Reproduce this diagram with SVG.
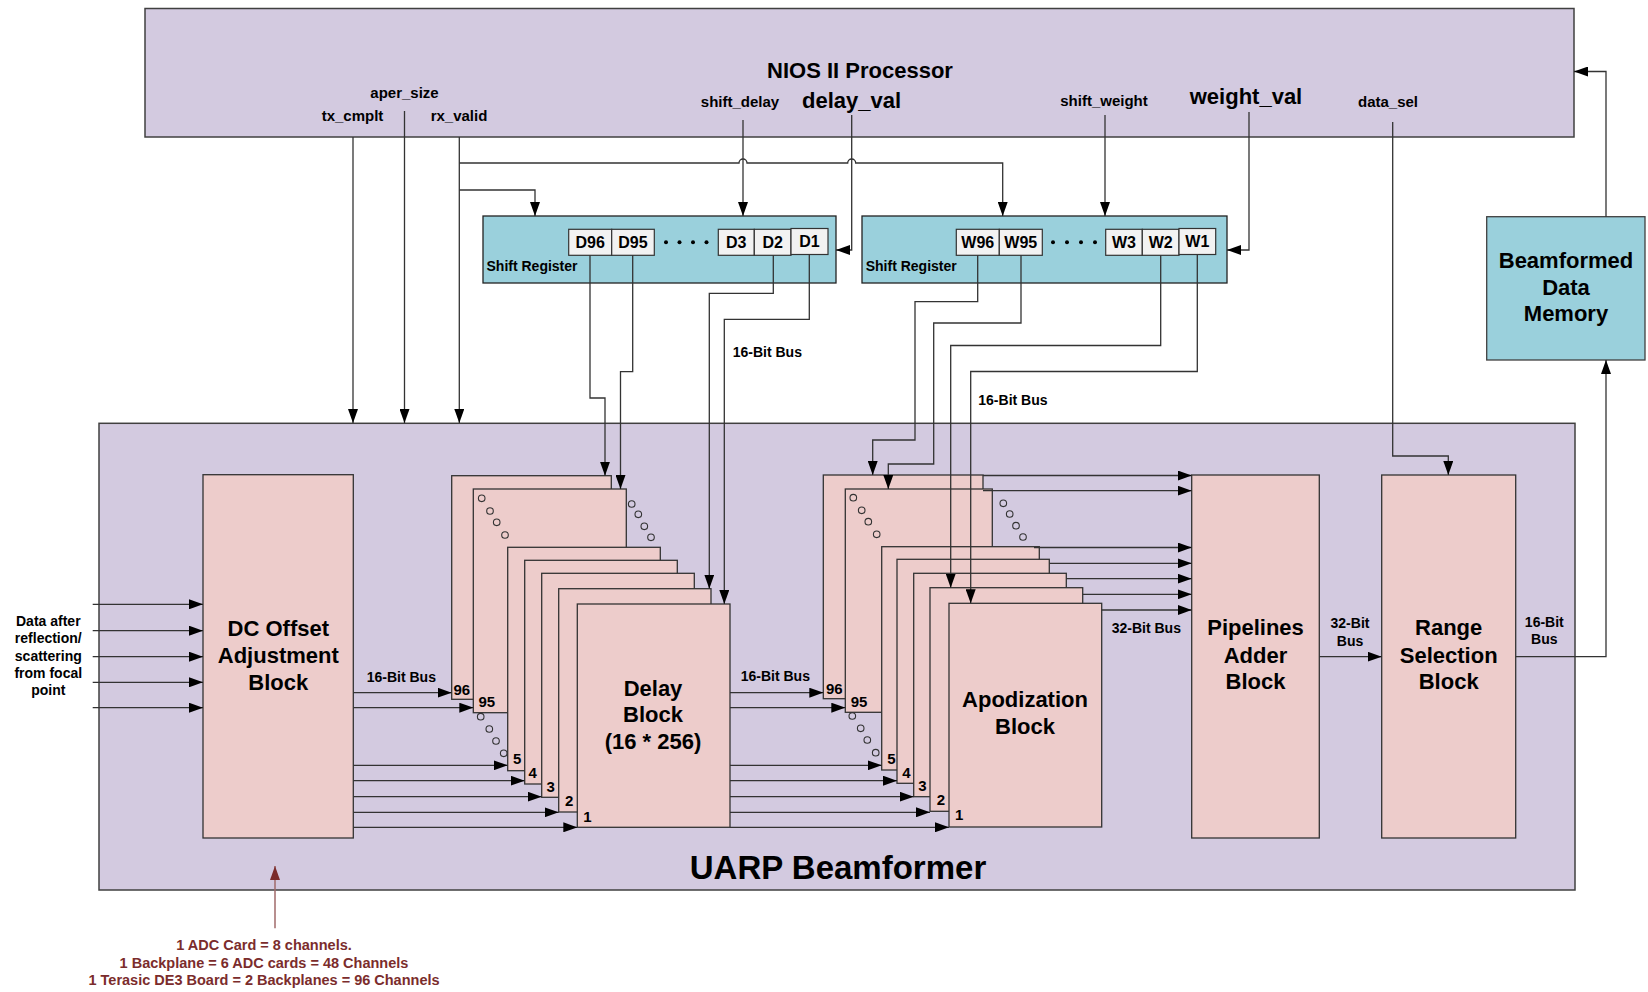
<svg xmlns="http://www.w3.org/2000/svg" width="1648" height="992" viewBox="0 0 1648 992">
  <defs>
    <marker id="arr" viewBox="0 0 14 10" refX="14" refY="5" markerWidth="14" markerHeight="10" orient="auto" markerUnits="userSpaceOnUse">
      <path d="M0,0 L14,5 L0,10 z" fill="#000"/>
    </marker>
    <marker id="arrBrown" viewBox="0 0 14 10" refX="14" refY="5" markerWidth="14" markerHeight="10" orient="auto" markerUnits="userSpaceOnUse">
      <path d="M0,0 L14,5 L0,10 z" fill="#7B2C2C"/>
    </marker>
  </defs>
  <style>
    text { font-family: "Liberation Sans", Arial, sans-serif; font-weight: bold; fill: #000; }
    .frame { fill: #D3CAE0; stroke: #404040; stroke-width: 1.5; }
    .blk { fill: #EDCCCB; stroke: #333; stroke-width: 1.3; }
    .reg { fill: #9AD0DC; stroke: #222; stroke-width: 1.3; }
    .cell { fill: #F2F2F2; stroke: #333; stroke-width: 1.2; }
    .dot { fill: #000; }
    .ring { fill: none; stroke: #333; stroke-width: 1.1; }
    .big { font-size: 22px; text-anchor: middle; }
    .sig { font-size: 15px; text-anchor: middle; }
    .cellt { font-size: 16px; text-anchor: middle; }
    .sm { font-size: 14px; }
    .lbl { font-size: 15px; }
    .wire { fill: none; stroke: #333; stroke-width: 1.3; }
    .wa { fill: none; stroke: #333; stroke-width: 1.3; marker-end: url(#arr); }
    .note { font-size: 14.5px; text-anchor: middle; fill: #7B2C2C; }
  </style>

  <!-- processor -->
  <g id="nios">
    <rect class="frame" x="145" y="8.5" width="1429" height="128.5"/>
    <text class="big" x="860" y="78">NIOS II Processor</text>
    <text class="big" x="851.5" y="108">delay_val</text>
    <text class="big" x="1246" y="104">weight_val</text>
    <text class="sig" x="404.5" y="98">aper_size</text>
    <text class="sig" x="352.5" y="121">tx_cmplt</text>
    <text class="sig" x="459" y="121">rx_valid</text>
    <text class="sig" x="740" y="107">shift_delay</text>
    <text class="sig" x="1104" y="106">shift_weight</text>
    <text class="sig" x="1388" y="107">data_sel</text>
  </g>

  <!-- beamformer frame -->
  <g id="uarp">
    <rect class="frame" x="99" y="423.3" width="1476" height="466.7"/>
    <text x="838" y="879" style="font-size:33px;text-anchor:middle">UARP Beamformer</text>
  </g>

  <!-- delay shift register -->
  <g id="delay-shift-register">
    <rect class="reg" x="483" y="216" width="353" height="67"/>
    <rect class="cell" x="568.7" y="229.3" width="43" height="26"/>
    <rect class="cell" x="611.7" y="229.3" width="42.6" height="26"/>
    <rect class="cell" x="718.3" y="229.3" width="36" height="26"/>
    <rect class="cell" x="754.3" y="229.3" width="36.7" height="26"/>
    <rect class="cell" x="791" y="228.5" width="37" height="26"/>
    <text class="cellt" x="590.2" y="248">D96</text>
    <text class="cellt" x="633" y="248">D95</text>
    <text class="cellt" x="736.3" y="248">D3</text>
    <text class="cellt" x="772.7" y="248">D2</text>
    <text class="cellt" x="809.5" y="246.5">D1</text>
    <circle class="dot" cx="666" cy="242.3" r="2"/>
    <circle class="dot" cx="679.5" cy="242.3" r="2"/>
    <circle class="dot" cx="693" cy="242.3" r="2"/>
    <circle class="dot" cx="706.5" cy="242.3" r="2"/>
    <text class="sm" x="486.5" y="271">Shift Register</text>
  </g>

  <!-- weight shift register -->
  <g id="weight-shift-register">
    <rect class="reg" x="862" y="216" width="365" height="67"/>
    <rect class="cell" x="956.3" y="229.3" width="43" height="26"/>
    <rect class="cell" x="999.3" y="229.3" width="43" height="26"/>
    <rect class="cell" x="1105.7" y="229.3" width="36.6" height="26"/>
    <rect class="cell" x="1142.3" y="229.3" width="36.7" height="26"/>
    <rect class="cell" x="1179" y="228.5" width="36.7" height="26"/>
    <text class="cellt" x="977.8" y="248">W96</text>
    <text class="cellt" x="1020.8" y="248">W95</text>
    <text class="cellt" x="1124" y="248">W3</text>
    <text class="cellt" x="1160.7" y="248">W2</text>
    <text class="cellt" x="1197.3" y="246.5">W1</text>
    <circle class="dot" cx="1053" cy="242.3" r="2"/>
    <circle class="dot" cx="1067" cy="242.3" r="2"/>
    <circle class="dot" cx="1081" cy="242.3" r="2"/>
    <circle class="dot" cx="1095" cy="242.3" r="2"/>
    <text class="sm" x="865.7" y="271">Shift Register</text>
  </g>

  <!-- output memory -->
  <g id="beamformed-memory">
    <rect class="reg" x="1486.7" y="216.7" width="158.3" height="143.3" style="stroke:#404040"/>
    <text class="big" x="1566" y="268">Beamformed</text>
    <text class="big" x="1566" y="294.5">Data</text>
    <text class="big" x="1566" y="321">Memory</text>
  </g>

  <!-- DC offset block -->
  <g id="dc-offset">
    <rect class="blk" x="203" y="474.7" width="150.3" height="363.3"/>
    <text class="big" x="278.3" y="636">DC Offset</text>
    <text class="big" x="278.3" y="663">Adjustment</text>
    <text class="big" x="278.3" y="689.5">Block</text>
  </g>

  <!-- delay block stack -->
  <g id="delay-block">
    <rect class="blk" x="451.7" y="475.7" width="159.6" height="223.6"/>
    <rect class="blk" x="473.3" y="489" width="153" height="223.7"/>
    <rect class="blk" x="507.7" y="547.3" width="152.6" height="223.4"/>
    <rect class="blk" x="524.7" y="560.3" width="152.6" height="223.7"/>
    <rect class="blk" x="541.7" y="573.3" width="152.6" height="224"/>
    <rect class="blk" x="558.7" y="588.7" width="152.3" height="223.3"/>
    <rect class="blk" x="577.3" y="604" width="152.7" height="223.3"/>
    <text class="lbl" x="453.5" y="695">96</text>
    <text class="lbl" x="478.5" y="707">95</text>
    <text class="lbl" x="513" y="764">5</text>
    <text class="lbl" x="528.5" y="778">4</text>
    <text class="lbl" x="546.5" y="792">3</text>
    <text class="lbl" x="565" y="806">2</text>
    <text class="lbl" x="583.3" y="822">1</text>
    <circle class="ring" cx="481.7" cy="498.3" r="3.3"/>
    <circle class="ring" cx="490" cy="511" r="3.3"/>
    <circle class="ring" cx="496.7" cy="522.3" r="3.3"/>
    <circle class="ring" cx="505" cy="535" r="3.3"/>
    <circle class="ring" cx="631.7" cy="504" r="3.3"/>
    <circle class="ring" cx="638.3" cy="514.3" r="3.3"/>
    <circle class="ring" cx="644.3" cy="526.3" r="3.3"/>
    <circle class="ring" cx="651" cy="537.3" r="3.3"/>
    <circle class="ring" cx="480.7" cy="716.7" r="3.3"/>
    <circle class="ring" cx="489.3" cy="729" r="3.3"/>
    <circle class="ring" cx="496" cy="741" r="3.3"/>
    <circle class="ring" cx="503.7" cy="753.3" r="3.3"/>
    <text class="big" x="653" y="696">Delay</text>
    <text class="big" x="653" y="722">Block</text>
    <text class="big" x="653" y="748.5">(16 * 256)</text>
  </g>

  <!-- apodization block stack -->
  <g id="apodization-block">
    <rect class="blk" x="823.3" y="475" width="159.7" height="223.7"/>
    <rect class="blk" x="845.3" y="489" width="147" height="223.3"/>
    <rect class="blk" x="881.7" y="546.7" width="157.6" height="223.3"/>
    <rect class="blk" x="897" y="559.3" width="152.3" height="224"/>
    <rect class="blk" x="913.7" y="573.3" width="152.6" height="223.4"/>
    <rect class="blk" x="930" y="587.7" width="152.7" height="223.6"/>
    <rect class="blk" x="949" y="603.3" width="152.7" height="223.7"/>
    <text class="lbl" x="826" y="694">96</text>
    <text class="lbl" x="850.7" y="707">95</text>
    <text class="lbl" x="887.3" y="763.5">5</text>
    <text class="lbl" x="902.3" y="777.5">4</text>
    <text class="lbl" x="918.3" y="791">3</text>
    <text class="lbl" x="936.7" y="804.5">2</text>
    <text class="lbl" x="955" y="820">1</text>
    <circle class="ring" cx="853.3" cy="497.7" r="3.3"/>
    <circle class="ring" cx="861.7" cy="510.3" r="3.3"/>
    <circle class="ring" cx="868.3" cy="521.7" r="3.3"/>
    <circle class="ring" cx="876.7" cy="534.3" r="3.3"/>
    <circle class="ring" cx="1003.3" cy="503.3" r="3.3"/>
    <circle class="ring" cx="1009.7" cy="514" r="3.3"/>
    <circle class="ring" cx="1016" cy="525.7" r="3.3"/>
    <circle class="ring" cx="1023" cy="537" r="3.3"/>
    <circle class="ring" cx="852.3" cy="716" r="3.3"/>
    <circle class="ring" cx="860.7" cy="728.3" r="3.3"/>
    <circle class="ring" cx="867.3" cy="740" r="3.3"/>
    <circle class="ring" cx="875.7" cy="752.7" r="3.3"/>
    <text class="big" x="1025" y="707">Apodization</text>
    <text class="big" x="1025" y="734">Block</text>
  </g>

  <!-- adder -->
  <g id="pipelines-adder">
    <rect class="blk" x="1191.7" y="475" width="127.6" height="363"/>
    <text class="big" x="1255.5" y="635">Pipelines</text>
    <text class="big" x="1255.5" y="662.5">Adder</text>
    <text class="big" x="1255.5" y="688.5">Block</text>
  </g>

  <!-- range selection -->
  <g id="range-selection">
    <rect class="blk" x="1381.7" y="475" width="134" height="363"/>
    <text class="big" x="1448.7" y="635">Range</text>
    <text class="big" x="1448.7" y="662.5">Selection</text>
    <text class="big" x="1448.7" y="688.5">Block</text>
  </g>

  <!-- input source note -->
  <g id="input-data">
    <text class="sm" x="48.3" y="625.7" text-anchor="middle">Data after</text>
    <text class="sm" x="48.3" y="642.5" text-anchor="middle">reflection/</text>
    <text class="sm" x="48.3" y="660.5" text-anchor="middle">scattering</text>
    <text class="sm" x="48.3" y="678" text-anchor="middle">from focal</text>
    <text class="sm" x="48.3" y="695" text-anchor="middle">point</text>
  </g>

  <g id="channel-note">
    <text class="note" x="264" y="950">1 ADC Card = 8 channels.</text>
    <text class="note" x="264" y="967.7">1 Backplane = 6 ADC cards = 48 Channels</text>
    <text class="note" x="264" y="985.3">1 Terasic DE3 Board = 2 Backplanes = 96 Channels</text>
  </g>

  <!-- wiring -->
  <g id="connectors">
    <!-- control lines from the processor -->
    <path class="wa" d="M353,137 V423"/>
    <path class="wa" d="M404.5,111 V423"/>
    <path class="wa" d="M459.3,137 V423"/>
    <path class="wa" d="M459.3,163 H739 A4,4 0 0 1 747,163 H847.7 A4,4 0 0 1 855.7,163 H1002.7 V216"/>
    <path class="wa" d="M459.3,190 H535 V216"/>
    <path class="wa" d="M743,120 V216"/>
    <path class="wa" d="M851.7,115 V250 H836"/>
    <path class="wa" d="M1105,115 V216"/>
    <path class="wa" d="M1249,112 V250 H1227"/>
    <path class="wa" d="M1392.7,122 V456 H1448.3 V475"/>
    <path class="wa" d="M1606,216.7 V71.5 H1574"/>

    <!-- delay register taps -->
    <path class="wa" d="M590,255.3 V398 H605 V475.7"/>
    <path class="wa" d="M632.7,255.3 V371.7 H620.5 V489"/>
    <path class="wa" d="M773.3,255.3 V293.3 H709.3 V588.7"/>
    <path class="wa" d="M809.3,254.5 V319.3 H724.3 V604"/>
    <text class="sm" x="732.7" y="356.7">16-Bit Bus</text>

    <!-- weight register taps -->
    <path class="wa" d="M977.7,255.3 V301.7 H915 V440 H872.7 V475"/>
    <path class="wa" d="M1021,255.3 V323 H933.7 V464 H888.3 V489"/>
    <path class="wa" d="M1160.7,255.3 V345.5 H950.7 V587.7"/>
    <path class="wa" d="M1197.3,254.5 V371.5 H970.7 V603.3"/>
    <text class="sm" x="978.3" y="404.5">16-Bit Bus</text>

    <!-- channel inputs -->
    <path class="wa" d="M92.7,604.3 H203"/>
    <path class="wa" d="M92.7,630.7 H203"/>
    <path class="wa" d="M92.7,656.7 H203"/>
    <path class="wa" d="M92.7,682.3 H203"/>
    <path class="wa" d="M92.7,707.7 H203"/>

    <!-- DC offset to delay cards -->
    <path class="wa" d="M353.3,692.7 H451.7"/>
    <path class="wa" d="M353.3,707.7 H473.3"/>
    <path class="wa" d="M353.3,765.3 H507.7"/>
    <path class="wa" d="M353.3,780.7 H524.7"/>
    <path class="wa" d="M353.3,796.7 H541.7"/>
    <path class="wa" d="M353.3,812.3 H558.7"/>
    <path class="wa" d="M353.3,827.3 H577.3"/>
    <text class="sm" x="366.7" y="681.7">16-Bit Bus</text>

    <!-- delay cards to apodization cards -->
    <path class="wa" d="M730,692.7 H823.3"/>
    <path class="wa" d="M730,707.7 H845.3"/>
    <path class="wa" d="M730,765.3 H881.7"/>
    <path class="wa" d="M730,780.7 H897"/>
    <path class="wa" d="M730,796.7 H913.7"/>
    <path class="wa" d="M730,812.3 H930"/>
    <path class="wa" d="M730,827.3 H949"/>
    <text class="sm" x="740.7" y="680.7">16-Bit Bus</text>

    <!-- apodization cards to adder -->
    <path class="wa" d="M983,475.5 H1191.7"/>
    <path class="wa" d="M983,490.7 H1191.7"/>
    <path class="wa" d="M1034,547.5 H1191.7"/>
    <path class="wa" d="M1049.3,563.3 H1191.7"/>
    <path class="wa" d="M1066.3,578.7 H1191.7"/>
    <path class="wa" d="M1082.7,594.3 H1191.7"/>
    <path class="wa" d="M1101.7,610 H1191.7"/>
    <text class="sm" x="1111.7" y="633.3">32-Bit Bus</text>

    <!-- adder to range selection to memory -->
    <path class="wa" d="M1319.3,656.7 H1381.7"/>
    <text class="sm" x="1350" y="628.3" text-anchor="middle">32-Bit</text>
    <text class="sm" x="1350" y="646" text-anchor="middle">Bus</text>
    <path class="wa" d="M1515.7,656.7 H1606 V360"/>
    <text class="sm" x="1544.3" y="626.7" text-anchor="middle">16-Bit</text>
    <text class="sm" x="1544.3" y="644.3" text-anchor="middle">Bus</text>

    <!-- channel count annotation -->
    <path d="M275,928.3 V866" fill="none" stroke="#A06A6A" stroke-width="1.5" marker-end="url(#arrBrown)"/>
  </g>
</svg>
